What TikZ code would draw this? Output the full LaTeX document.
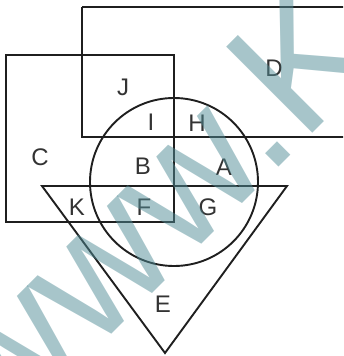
\documentclass[tikz,border=0pt]{standalone}
\usepackage{fontspec}
\setmainfont{Liberation Sans}
\begin{document}
\begin{tikzpicture}[x=1pt,y=-1pt,
  outline/.style={draw=black!88, line width=1.9pt},
  lbl/.style={text=black!80, inner sep=0pt, font=\fontsize{24}{24}\selectfont},
  wm/.style={text={rgb,255:red,80;green,140;blue,150}, opacity=0.5, inner sep=0pt,
    rotate=45, anchor=base west, font=\fontsize{177}{177}\selectfont}]
\useasboundingbox (0,0) rectangle (343,356);
\clip (0,0) rectangle (343,356);
% D rectangle
\draw[outline] (82,7) -- (350,7) (82,7) -- (82,137) -- (350,137);
% C rectangle
\draw[outline] (6,55) rectangle (174,222);
% circle
\draw[outline] (174,182) circle[radius=84];
% triangle
\draw[outline] (42,186) -- (287,186) -- (165,353) -- cycle;
% labels
\node[lbl] (J) at (123,87) {J};
\node[lbl] (D) at (274,68) {D};
\node[lbl] (I) at (151,122) {I};
\node[lbl] (H) at (197,123) {H};
\node[lbl] (C) at (40,157) {C};
\node[lbl] (B) at (143,166) {B};
\node[lbl] (A) at (224,167) {A};
\node[lbl] (K) at (77,207) {K};
\node[lbl] (F) at (144,207) {F};
\node[lbl] (G) at (208,207) {G};
\node[lbl] (E) at (163,304) {E};
% watermark
\node[wm] (wmark) at (3,443) {www.K};
\end{tikzpicture}
\end{document}
